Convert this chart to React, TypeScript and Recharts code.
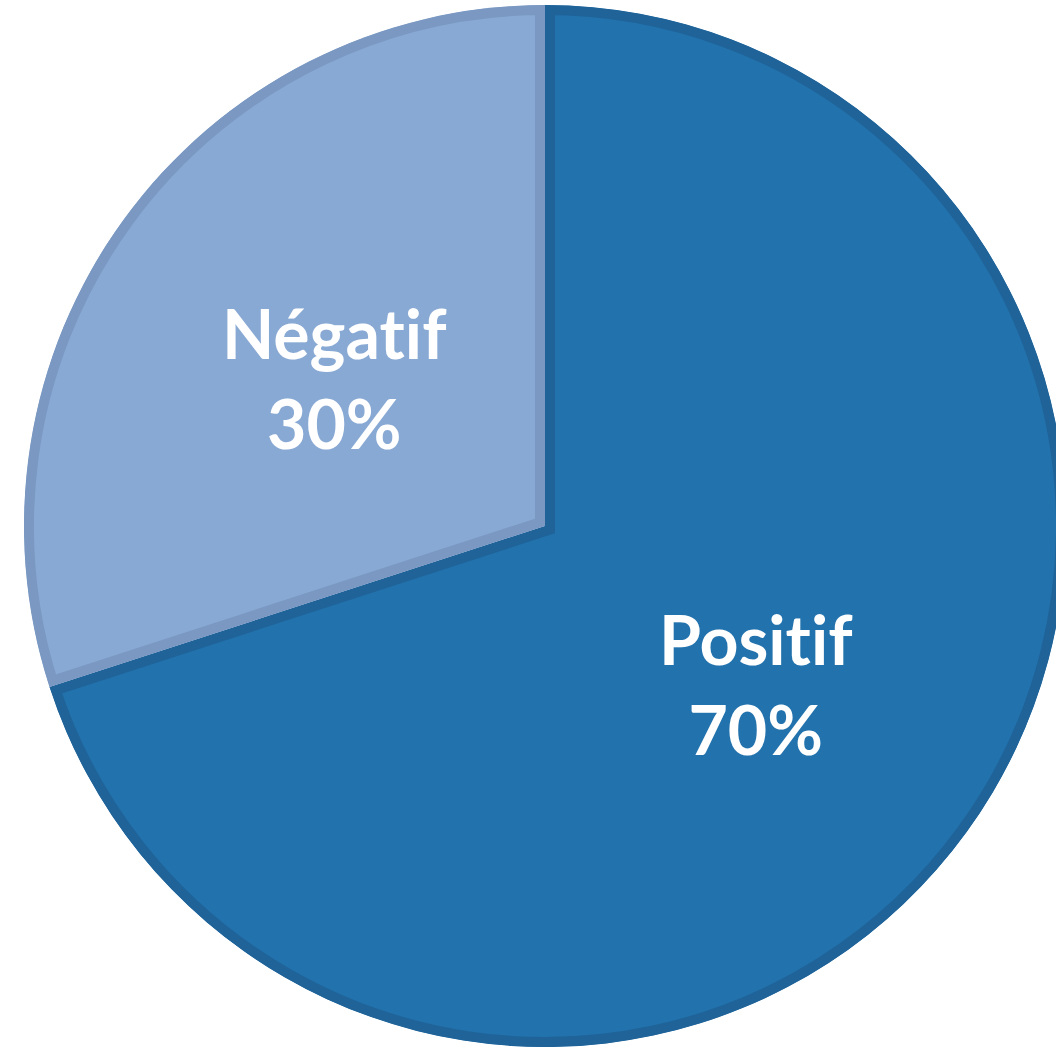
import { PieChart, Pie, Cell, Sector } from "recharts";

const categories = ["Positif", "Négatif"];
const shares = [70, 30];
const fills = ["#2272ad", "#88a9d4"];
const borders = ["#1f6399", "#7a98c1"];

const data = categories.map((name, i) => ({ name, value: shares[i] }));

const RADIAN = Math.PI / 180;

// sector with a border drawn on the inside only
const InsetSector = (props: any) => {
  const id = `clip-${props.index}`;
  return (
    <g>
      <defs>
        <clipPath id={id}>
          <Sector {...props} stroke="none" />
        </clipPath>
      </defs>
      <Sector
        {...props}
        fill={props.fill}
        stroke={borders[props.index]}
        strokeWidth={20}
        clipPath={`url(#${id})`}
      />
    </g>
  );
};

const renderLabel = (props: any) => {
  const { cx, cy, midAngle, outerRadius, name, value } = props;
  const r = outerRadius * 0.5;
  const x = cx + r * Math.cos(-midAngle * RADIAN);
  const y = cy + r * Math.sin(-midAngle * RADIAN);
  return (
    <text
      x={x}
      y={y}
      fill="#ffffff"
      textAnchor="middle"
      fontFamily="Lato, 'Open Sans', sans-serif"
      fontWeight="bold"
      fontSize={68}
      style={{ fontVariantLigatures: "none" }}
    >
      <tspan x={x} dy={-14}>{name}</tspan>
      <tspan x={x} dy={90}>{value}%</tspan>
    </text>
  );
};

export default function App() {
  return (
    <div style={{ position: "absolute", left: 0, top: 0, background: "#fff" }}>
      <PieChart width={1056} height={1048} margin={{ top: 0, right: 0, bottom: 0, left: 0 }}>
        <Pie
          data={data}
          dataKey="value"
          nameKey="name"
          cx={545}
          cy={526}
          outerRadius={521}
          startAngle={90}
          endAngle={-270}
          stroke="none"
          shape={InsetSector}
          label={renderLabel}
          labelLine={false}
          isAnimationActive={false}
        >
          {data.map((d, i) => (
            <Cell key={d.name} fill={fills[i]} />
          ))}
        </Pie>
      </PieChart>
    </div>
  );
}
